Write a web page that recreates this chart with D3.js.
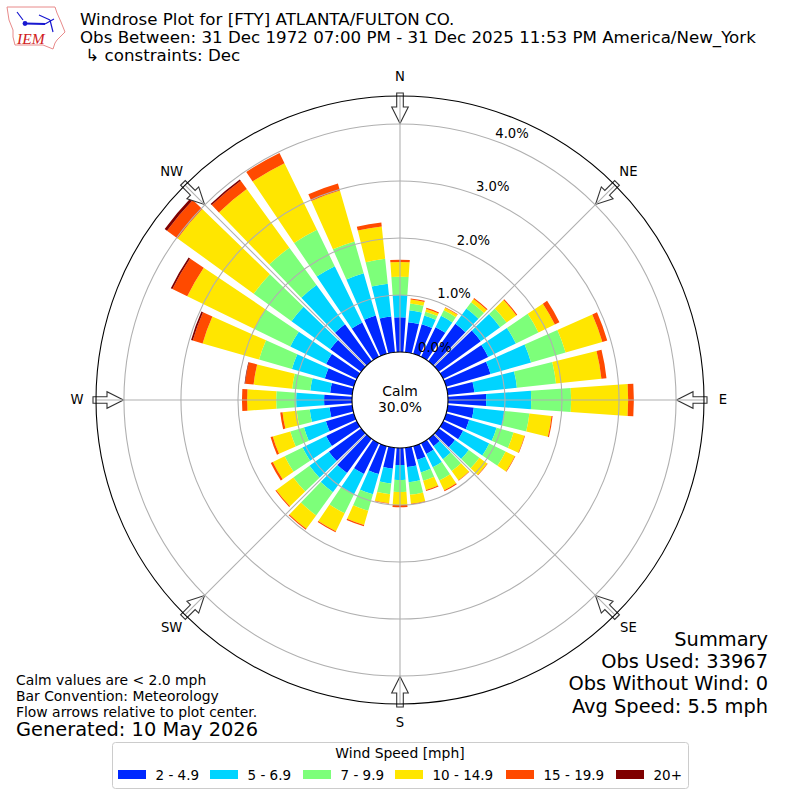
<!DOCTYPE html>
<html>
<head>
<meta charset="utf-8">
<script src="https://cdn.jsdelivr.net/npm/d3@7"></script>
<style>
body { margin: 0; background: #fff; }
text { font-family: "DejaVu Sans", sans-serif; fill: #000; }
</style>
</head>
<body>
<svg id="chart" width="800" height="800"></svg>
<script>
// direction of each bar, degrees clockwise from north
var directions = d3.range(0, 360, 10);

// percent of obs per speed class, one value per direction
var speed2to5 = [0.61,0.53,0.54,0.58,0.81,0.91,0.88,0.81,0.47,0.67,0.46,0.42,0.39,0.35,0.16,0.21,0.25,0.34,
                 0.30,0.37,0.51,0.60,0.74,0.70,0.60,0.51,0.40,0.49,0.39,0.53,0.60,0.67,0.80,0.67,0.70,0.63];
var speed5to7 = [0.39,0.21,0.16,0.22,0.33,0.42,0.54,0.74,0.75,0.79,0.54,0.50,0.51,0.30,0.28,0.26,0.23,0.27,
                 0.26,0.26,0.37,0.40,0.42,0.42,0.46,0.40,0.35,0.49,0.35,0.60,0.70,0.84,0.85,1.10,0.77,0.58];
var speed7to10 = [0.32,0.12,0.07,0.11,0.14,0.14,0.44,0.63,0.69,0.70,0.44,0.31,0.32,0.23,0.26,0.26,0.15,0.22,
                  0.21,0.19,0.30,0.37,0.50,0.35,0.35,0.25,0.23,0.35,0.32,0.60,0.70,0.82,0.81,0.71,0.58,0.44];
var speed10to15 = [0.26,0.07,0.05,0.05,0.07,0.21,0.32,0.67,0.80,1.00,0.39,0.20,0.18,0.17,0.20,0.19,0.17,0.16,
                   0.23,0.16,0.26,0.35,0.29,0.37,0.23,0.32,0.25,0.51,0.68,1.03,1.31,1.65,1.27,1.30,0.93,0.57];
var speed15to20 = [0.04,0.02,0.02,0.01,0.02,0.02,0.09,0.09,0.09,0.10,0.02,0.01,0.01,0.01,0.01,0.02,0.02,0.01,
                   0.04,0.01,0.02,0.02,0.02,0.02,0.04,0.04,0.04,0.09,0.15,0.18,0.29,0.23,0.18,0.20,0.13,0.07];
var speed20up = [0,0,0,0,0,0,0,0,0,0,0,0,0,0,0,0,0,0,
                 0,0,0,0,0,0,0,0,0,0,0.01,0.03,0.03,0.05,0.03,0,0,0];

var seriesList = [speed2to5, speed5to7, speed7to10, speed10to15, speed15to20, speed20up];
var speedLabels = ["2 - 4.9", "5 - 6.9", "7 - 9.9", "10 - 14.9", "15 - 19.9", "20+"];
var speedColors = ["#0028ff", "#00d4ff", "#7dff7a", "#ffe600", "#ff4a00", "#7f0000"];

var ringTicks = [0, 1, 2, 3, 4];
var compassLabels = ["N", "NE", "E", "SE", "S", "SW", "W", "NW"];
var compassAngles = [0, 45, 90, 135, 180, 225, 270, 315];

var titleLines = ["Windrose Plot for [FTY] ATLANTA/FULTON CO.",
                  "Obs Between: 31 Dec 1972 07:00 PM - 31 Dec 2025 11:53 PM America/New_York",
                  " \u21b3 constraints: Dec"];
var summaryLines = ["Summary", "Obs Used: 33967", "Obs Without Wind: 0", "Avg Speed: 5.5 mph"];
var noteLines = ["Calm values are < 2.0 mph", "Bar Convention: Meteorology", "Flow arrows relative to plot center."];

var cx = 400, cy = 400;
var rScale = d3.scaleLinear().domain([0, 4.49]).range([48, 304]);
var barWidth = 8 * Math.PI / 180;
var rad = Math.PI / 180;

var svg = d3.select("#chart");
var plot = svg.append("g").attr("transform", "translate(" + cx + "," + cy + ")");

// bars
var arc = d3.arc();
seriesList.forEach(function(values, s) {
    plot.append("g").selectAll("path")
        .data(directions)
        .enter()
        .append("path")
        .attr("fill", speedColors[s])
        .attr("d", function(dir, i) {
            var bottom = d3.sum(seriesList.slice(0, s), function(v) { return v[i]; });
            if (values[i] === 0) return null;
            return arc({
                innerRadius: rScale(bottom),
                outerRadius: rScale(bottom + values[i]),
                startAngle: dir * rad - barWidth / 2,
                endAngle: dir * rad + barWidth / 2
            });
        });
});

// flow arrows, pointing at the center, the spokes run over them
plot.selectAll("path.arrow")
    .data(compassAngles)
    .enter()
    .append("path")
    .attr("class", "arrow")
    .attr("d", "M-3.3,-307 L3.3,-307 L3.3,-293 L8.3,-293 L0,-276.5 L-8.3,-293 L-3.3,-293 Z")
    .attr("transform", function(d) { return "rotate(" + d + ")"; })
    .attr("fill", "#fff")
    .attr("stroke", "#333")
    .attr("stroke-width", 1.1);

// grid on top of the bars
plot.selectAll("circle.ring")
    .data(ringTicks.slice(1))
    .enter()
    .append("circle")
    .attr("class", "ring")
    .attr("r", function(d) { return rScale(d); })
    .attr("fill", "none")
    .attr("stroke", "#b0b0b0")
    .attr("stroke-width", 1.1);

plot.selectAll("line.spoke")
    .data(compassAngles)
    .enter()
    .append("line")
    .attr("class", "spoke")
    .attr("x1", function(d) { return rScale(0) * Math.sin(d * rad); })
    .attr("y1", function(d) { return -rScale(0) * Math.cos(d * rad); })
    .attr("x2", function(d) { return 304 * Math.sin(d * rad); })
    .attr("y2", function(d) { return -304 * Math.cos(d * rad); })
    .attr("stroke", "#b0b0b0")
    .attr("stroke-width", 1.1);

plot.append("circle").attr("r", 304).attr("fill", "none").attr("stroke", "#000").attr("stroke-width", 1.1);
plot.append("circle").attr("r", rScale(0)).attr("fill", "#fff").attr("stroke", "#000").attr("stroke-width", 1.1);

// ring labels
plot.selectAll("text.ringlabel")
    .data(ringTicks)
    .enter()
    .append("text")
    .attr("class", "ringlabel")
    .attr("x", function(d) { return 18.5 + rScale(d) * Math.sin(19.8 * rad); })
    .attr("y", function(d) { return -7.5 - rScale(d) * Math.cos(19.8 * rad); })
    .attr("dy", "0.36em")
    .attr("text-anchor", "middle")
    .attr("font-size", 13.2)
    .text(function(d) { return d.toFixed(1) + "%"; });

// compass labels
plot.selectAll("text.compass")
    .data(compassLabels)
    .enter()
    .append("text")
    .attr("class", "compass")
    .attr("x", function(d, i) { return 323 * Math.sin(compassAngles[i] * rad); })
    .attr("y", function(d, i) { return -323 * Math.cos(compassAngles[i] * rad); })
    .attr("dy", "0.3em")
    .attr("text-anchor", "middle")
    .attr("font-size", 13.2)
    .text(function(d) { return d; });

plot.append("text").attr("text-anchor", "middle").attr("y", -4).attr("font-size", 13.9).text("Calm");
plot.append("text").attr("text-anchor", "middle").attr("y", 12).attr("font-size", 13.9).text("30.0%");

// header
svg.selectAll("text.title")
    .data(titleLines)
    .enter()
    .append("text")
    .attr("class", "title")
    .attr("x", 80)
    .attr("y", function(d, i) { return 25 + i * 18; })
    .attr("font-size", 16.67)
    .attr("xml:space", "preserve")
    .style("white-space", "pre")
    .text(function(d) { return d; });

// summary
svg.selectAll("text.summary")
    .data(summaryLines)
    .enter()
    .append("text")
    .attr("class", "summary")
    .attr("x", 768)
    .attr("y", function(d, i) { return 645.5 + i * 22.4; })
    .attr("text-anchor", "end")
    .attr("font-size", 19.4)
    .text(function(d) { return d; });

// notes
svg.selectAll("text.note")
    .data(noteLines)
    .enter()
    .append("text")
    .attr("class", "note")
    .attr("x", 16)
    .attr("y", function(d, i) { return 684.5 + i * 16; })
    .attr("font-size", 13.9)
    .text(function(d) { return d; });
svg.append("text").attr("x", 16).attr("y", 736).attr("font-size", 19.4).text("Generated: 10 May 2026");

// legend
var legend = svg.append("g");
legend.append("rect")
    .attr("x", 112.5).attr("y", 742.5).attr("width", 576).attr("height", 46).attr("rx", 3)
    .attr("fill", "#fff").attr("stroke", "#ccc");
legend.append("text")
    .attr("x", 400).attr("y", 758).attr("text-anchor", "middle").attr("font-size", 13.9)
    .text("Wind Speed [mph]");
var legendX = [118, 210, 303, 395, 506, 616];
var legendItems = legend.selectAll("g.item")
    .data(speedLabels)
    .enter()
    .append("g")
    .attr("class", "item")
    .attr("transform", function(d, i) { return "translate(" + legendX[i] + ",770)"; });
legendItems.append("rect")
    .attr("width", 28).attr("height", 9)
    .attr("fill", function(d, i) { return speedColors[i]; });
legendItems.append("text")
    .attr("x", 37.5).attr("y", 9.5).attr("font-size", 13.5)
    .text(function(d) { return d; });

// IEM logo, Iowa outline with a station plot
var logo = svg.append("g");
logo.append("path")
    .attr("d", "M7,7 L55,7 L57,13 L61,22 L65,32 L60,37 L57,40 L55,43 L53,49 L43,45 L15,45 L13,37 L13,30 L9,20 Z")
    .attr("fill", "#fff").attr("stroke", "#e88a8a").attr("stroke-width", 1);
logo.append("path")
    .attr("d", "M25,23.5 L45,24")
    .attr("fill", "none").attr("stroke", "#1818d0").attr("stroke-width", 2);
logo.append("path")
    .attr("d", "M45,24 L54,19 M39,15 L50,20 M50,20 L53,32 M17,12 L23,20")
    .attr("fill", "none").attr("stroke", "#1818d0").attr("stroke-width", 1.2);
logo.append("circle").attr("cx", 25).attr("cy", 23.5).attr("r", 2.4).attr("fill", "#1818d0");
logo.append("text")
    .attr("x", 17).attr("y", 44).attr("font-size", 15.5).attr("font-style", "italic")
    .style("font-family", "'Liberation Serif', serif").style("fill", "#d02020")
    .text("IEM");
</script>
</body>
</html>
